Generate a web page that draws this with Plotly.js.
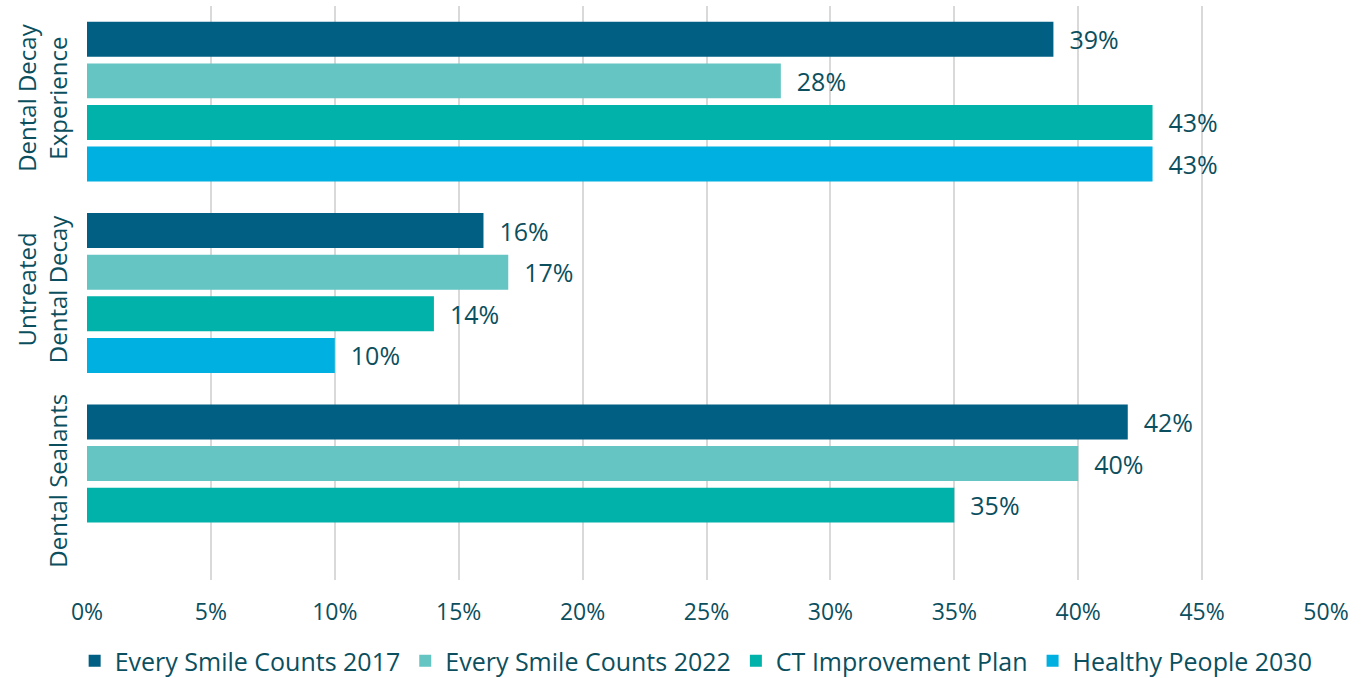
<!DOCTYPE html>
<html>
<head>
<meta charset="utf-8">
<script src="https://cdn.plot.ly/plotly-3.0.1.min.js"></script>
<style>
  html, body { margin: 0; padding: 0; background: #fff; }
  #chart { width: 1365px; height: 678px; }
</style>
</head>
<body>
<div id="chart"></div>
<script>
// categories, top to bottom
const categories = ['Dental Decay<br>Experience', 'Untreated<br>Dental Decay', 'Dental Sealants'];

const seriesNames = ['Every Smile Counts 2017', 'Every Smile Counts 2022', 'CT Improvement Plan', 'Healthy People 2030'];
const esc2017 = [39, 16, 42];
const esc2022 = [28, 17, 40];
const ctPlan = [43, 14, 35];
const hp2030 = [43, 10, null];

const colors = ['#005F83', '#64C5C3', '#00B2A9', '#00B0E0'];
const textColor = '#0B4F5E';
const fontFamily = '"Open Sans", Lato, sans-serif';

const allValues = [esc2017, esc2022, ctPlan, hp2030];

const traces = allValues.map((vals, i) => ({
    type: 'bar',
    orientation: 'h',
    name: seriesNames[i],
    y: categories,
    x: vals,
    // pad the labels away from the bar ends
    text: vals.map(v => v == null ? '' : '\u00a0\u00a0' + v + '%'),
    textposition: 'outside',
    cliponaxis: false,
    textfont: { family: fontFamily, size: 25, color: textColor },
    marker: { color: colors[i] },
    hoverinfo: 'x+name'
}));

const layout = {
    width: 1365,
    height: 678,
    margin: { l: 87, r: 39, t: 6, b: 98 },
    paper_bgcolor: '#fff',
    plot_bgcolor: '#fff',
    font: { family: fontFamily, size: 21, color: textColor },
    barmode: 'group',
    bargap: 0.13,
    bargroupgap: 0.16,
    showlegend: true,
    xaxis: {
        range: [0, 50],
        dtick: 5,
        ticksuffix: '%',
        showgrid: true,
        gridcolor: '#D9D9D9',
        gridwidth: 2,
        zeroline: false,
        showline: false,
        ticks: '',
        ticklabelstandoff: 16,
        automargin: false,
        tickfont: { family: fontFamily, size: 23, color: textColor },
        fixedrange: true
    },
    yaxis: {
        autorange: 'reversed',
        tickangle: -90,
        showgrid: false,
        zeroline: false,
        showline: false,
        ticks: '',
        ticklabelstandoff: 14,
        automargin: false,
        tickfont: { family: fontFamily, size: 24, color: textColor },
        fixedrange: true
    },
    legend: {
        orientation: 'h',
        xref: 'container',
        yref: 'container',
        x: 0.51,
        xanchor: 'center',
        y: 0.025,
        yanchor: 'middle',
        traceorder: 'normal',
        font: { family: fontFamily, size: 25, color: textColor },
        itemwidth: 30
    }
};

Plotly.newPlot('chart', traces, layout, { displayModeBar: false, staticPlot: true });
</script>
</body>
</html>
